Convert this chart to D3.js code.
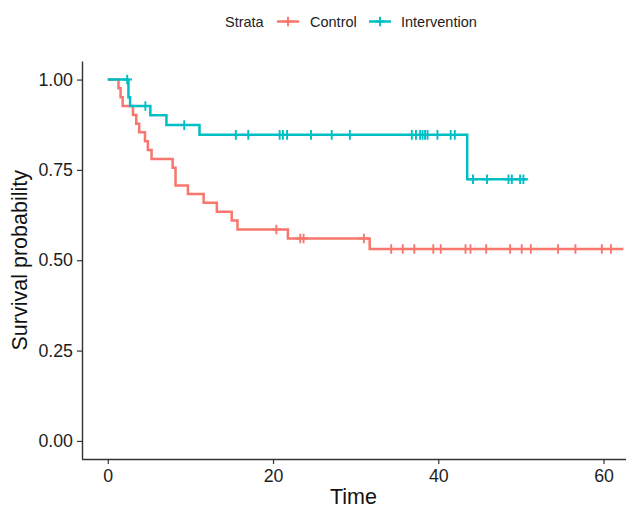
<!DOCTYPE html>
<html><head><meta charset="utf-8">
<script src="https://cdn.jsdelivr.net/npm/d3@7"></script>
<style>
html,body{margin:0;padding:0;background:#fff;}
svg{display:block;font-family:"Liberation Sans",Arial,sans-serif;}
</style></head>
<body><svg id="chart" width="626" height="517"></svg>
<script>
// ---- data ----
const strata = ["Control", "Intervention"];
const colors = ["#F8766D", "#00BFC4"];
// Control: step times and survival after each step
const controlTime = [0, 1.3, 1.55, 1.8, 3.05, 3.45, 3.8, 4.5, 4.85, 5.3, 7.85, 8.2, 9.7, 11.6, 13.2, 15.0, 15.7, 21.8, 31.7];
const controlSurv = [1.0, 0.976, 0.951, 0.927, 0.902, 0.878, 0.854, 0.829, 0.805, 0.780, 0.756, 0.707, 0.683, 0.659, 0.634, 0.610, 0.585, 0.560, 0.531];
const controlEnd = 62.4;
const controlCensor = [20.4, 23.3, 23.7, 31.0, 34.3, 35.7, 37.1, 39.4, 40.3, 43.3, 43.9, 45.8, 48.7, 50.1, 51.2, 54.5, 56.6, 59.8, 60.9];
// Intervention
const interventionTime = [0, 2.5, 2.7, 5.15, 7.1, 11.1, 43.5];
const interventionSurv = [1.0, 0.951, 0.927, 0.901, 0.874, 0.847, 0.724];
const interventionEnd = 50.7;
const interventionCensor = [2.35, 4.55, 9.25, 15.5, 17.0, 20.8, 21.2, 21.7, 24.6, 27.1, 29.3, 36.8, 37.3, 37.8, 38.1, 38.4, 38.7, 39.9, 41.5, 42.0, 44.2, 45.9, 48.5, 48.9, 49.9, 50.3];
const xTicks = [0, 20, 40, 60];
const yTicks = [0, 0.25, 0.5, 0.75, 1.0];
const yTickLabels = ["0.00", "0.25", "0.50", "0.75", "1.00"];
const xTitle = "Time";
const yTitle = "Survival probability";
const legendTitle = "Strata";

// ---- layout ----
const svg = d3.select("#chart");
const panel = {left: 82, right: 625, top: 61.5, bottom: 459};
const x = d3.scaleLinear().domain([-3.12, 62.6]).range([panel.left, panel.right]);
const y = d3.scaleLinear().domain([-0.05, 1.05]).range([panel.bottom, panel.top]);

svg.append("defs").append("clipPath").attr("id", "clip")
  .append("rect").attr("x", panel.left).attr("y", 0).attr("width", panel.right - panel.left + 2).attr("height", panel.bottom);

const series = [
  {name: strata[0], color: colors[0], time: controlTime, surv: controlSurv, end: controlEnd, censor: controlCensor},
  {name: strata[1], color: colors[1], time: interventionTime, surv: interventionSurv, end: interventionEnd, censor: interventionCensor}
];

function survAt(s, t) {
  let v = s.surv[0];
  for (let i = 0; i < s.time.length; i++) if (s.time[i] <= t) v = s.surv[i];
  return v;
}

const lw = 2.5;
const line = d3.line().x(d => x(d[0])).y(d => y(d[1])).curve(d3.curveStepAfter);
const g = svg.append("g").attr("clip-path", "url(#clip)");
series.forEach(s => {
  const pts = s.time.map((t, i) => [t, s.surv[i]]);
  pts.push([s.end, s.surv[s.surv.length - 1]]);
  g.append("path").attr("d", line(pts)).attr("fill", "none")
    .attr("stroke", s.color).attr("stroke-width", lw);
});
const cs = 4.8;
series.forEach(s => {
  g.selectAll(null).data(s.censor).enter().append("path")
    .attr("d", t => {
      const cx = x(t), cy = y(survAt(s, t));
      return `M${cx - cs},${cy}H${cx + cs}M${cx},${cy - cs}V${cy + cs}`;
    })
    .attr("stroke", s.color).attr("stroke-width", 1.9).attr("fill", "none");
});

// axes
const axisColor = "#333";
const xAxis = svg.append("g").attr("transform", `translate(0,${panel.bottom})`)
  .call(d3.axisBottom(x).tickValues(xTicks).tickSize(5).tickPadding(5).tickSizeOuter(0));
const yAxis = svg.append("g").attr("transform", `translate(${panel.left},0)`)
  .call(d3.axisLeft(y).tickValues(yTicks).tickFormat((d, i) => yTickLabels[i]).tickSize(5).tickPadding(4).tickSizeOuter(0));
[xAxis, yAxis].forEach(a => {
  a.select(".domain").attr("stroke", axisColor).attr("stroke-width", 1.4);
  a.selectAll(".tick line").attr("stroke", axisColor).attr("stroke-width", 1.2);
  a.selectAll(".tick text").attr("fill", "#1e1e1e").attr("font-size", 17.8)
    .attr("font-family", '"Liberation Sans",Arial,sans-serif');
});
xAxis.select(".domain").attr("d", `M${panel.left},0.5H626`);
yAxis.select(".domain").attr("d", `M0.5,${panel.top}V${panel.bottom}`);

svg.append("text").attr("x", (panel.left + panel.right) / 2).attr("y", 504)
  .attr("text-anchor", "middle").attr("font-size", 21.5).attr("fill", "#111").text(xTitle);
svg.append("text").attr("transform", `translate(27,${(panel.top + panel.bottom) / 2}) rotate(-90)`)
  .attr("text-anchor", "middle").attr("font-size", 21.5).attr("fill", "#111").text(yTitle);

// legend
const ly = 21.5;
const leg = svg.append("g");
leg.append("text").attr("x", 225).attr("y", ly).attr("dy", "0.35em").attr("font-size", 14.5).attr("fill", "#222").text(legendTitle);
const keyX = [277, 369];
const labX = [310, 401];
series.forEach((s, i) => {
  const k = leg.append("g");
  k.append("line").attr("x1", keyX[i]).attr("x2", keyX[i] + 22).attr("y1", ly).attr("y2", ly)
    .attr("stroke", s.color).attr("stroke-width", lw);
  const cx = keyX[i] + 11;
  k.append("path").attr("d", `M${cx - cs},${ly}H${cx + cs}M${cx},${ly - cs}V${ly + cs}`)
    .attr("stroke", s.color).attr("stroke-width", 1.9);
  leg.append("text").attr("x", labX[i]).attr("y", ly).attr("dy", "0.35em").attr("font-size", 14.5)
    .attr("fill", "#222").text(s.name);
});
</script></body></html>
